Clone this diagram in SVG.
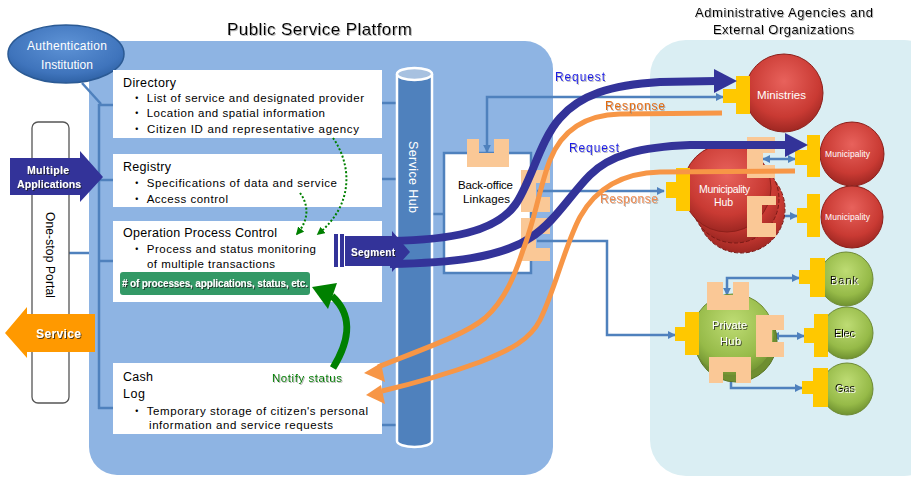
<svg xmlns="http://www.w3.org/2000/svg" width="911" height="478" viewBox="0 0 911 478">
<defs>
<style>
.f{font-family:"Liberation Sans","Noto Sans CJK JP",Arial,sans-serif}
.hd{font-size:12.5px;fill:#000}
.it{font-size:11.5px;fill:#000}
.wb{font-weight:bold;fill:#fff}
.cn{fill:none;stroke:#4F81BD;stroke-width:2.5}
.pe{fill:#FAC896}
.ye{fill:#FFC800}
.rq{fill:none;stroke:#333399;stroke-width:8}
.rs{fill:none;stroke:#F79646;stroke-width:5}
.box{fill:#fff}
</style>
<marker id="ab" viewBox="0 0 10 10" refX="9" refY="5" markerWidth="8" markerHeight="8" markerUnits="userSpaceOnUse" orient="auto-start-reverse"><path d="M0,0 L10,5 L0,10 z" fill="#4F81BD"/></marker>
<marker id="ag" viewBox="0 0 10 10" refX="8" refY="5" markerWidth="8" markerHeight="8" markerUnits="userSpaceOnUse" orient="auto"><path d="M0,0 L10,5 L0,10 z" fill="#008000"/></marker>
<radialGradient id="red" cx="50%" cy="35%" r="65%"><stop offset="0" stop-color="#E8625C"/><stop offset="0.7" stop-color="#C93A33"/><stop offset="1" stop-color="#9E2722"/></radialGradient>
<radialGradient id="grn" cx="50%" cy="35%" r="65%"><stop offset="0" stop-color="#BEDC74"/><stop offset="0.7" stop-color="#96BA48"/><stop offset="1" stop-color="#6F9130"/></radialGradient>
<radialGradient id="blu" cx="50%" cy="35%" r="70%"><stop offset="0" stop-color="#5E93D6"/><stop offset="0.7" stop-color="#3F74BC"/><stop offset="1" stop-color="#2A5C9E"/></radialGradient>
<filter id="sd" x="-10%" y="-30%" width="120%" height="160%"><feDropShadow dx="1" dy="1" stdDeviation="0.4" flood-color="#222" flood-opacity="0.8"/></filter>
<filter id="sl" x="-10%" y="-30%" width="120%" height="160%"><feDropShadow dx="1" dy="1" stdDeviation="0.6" flood-color="#888" flood-opacity="0.6"/></filter>
<filter id="sw" x="-10%" y="-30%" width="120%" height="160%"><feDropShadow dx="1" dy="1" stdDeviation="0.3" flood-color="#fff" flood-opacity="1"/></filter>
</defs>

<!-- panels -->
<rect id="platform" x="89" y="41" width="464" height="434" rx="28" fill="#8EB4E3"/>
<rect id="external" x="650" y="40" width="290" height="436" rx="36" fill="#DAEEF3"/>
<text class="f" x="227" y="35" font-size="17" textLength="185" filter="url(#sl)">Public Service Platform</text>
<text class="f" x="695" y="17" font-size="13" textLength="178" filter="url(#sl)">Administrative Agencies and</text>
<text class="f" x="713" y="34" font-size="13" textLength="141" filter="url(#sl)">External Organizations</text>

<!-- connectors (thin) -->
<g id="connectors">
<path class="cn" d="M82,83 L101,104"/>
<path class="cn" d="M99,104 V409 M98,105 H113 M98,180 H113 M98,261 H113 M98,408 H113"/>
<path class="cn" d="M69,253 H89"/>
<path class="cn" d="M382,103 H398 M382,179 H398 M382,425 H398 M431,214 H445"/>
<path class="cn" d="M487,152 V97 H723" marker-start="url(#ab)" marker-end="url(#ab)"/>
<path class="cn" d="M537,191 H664" marker-end="url(#ab)"/>
<path class="cn" d="M537,241 H607 V335 H675" marker-end="url(#ab)"/>
<path class="cn" d="M763,159 H795" marker-start="url(#ab)" marker-end="url(#ab)"/>
<path class="cn" d="M763,216 H797" marker-start="url(#ab)" marker-end="url(#ab)"/>
<path class="cn" d="M727,295 V278 H799" marker-start="url(#ab)" marker-end="url(#ab)"/>
<path class="cn" d="M772,336 H804" marker-start="url(#ab)" marker-end="url(#ab)"/>
<path class="cn" d="M731,373 V388 H802" marker-start="url(#ab)" marker-end="url(#ab)"/>
</g>

<!-- authentication -->
<g id="auth">
<ellipse cx="66" cy="54" rx="58" ry="29" fill="url(#blu)" stroke="#2B5A94" stroke-width="1.5"/>
<text class="f" x="27" y="50" font-size="12" fill="#fff" textLength="80">Authentication</text>
<text class="f" x="41" y="69" font-size="12" fill="#fff" textLength="52">Institution</text>
</g>

<!-- portal -->
<g id="portal">
<rect x="32" y="122" width="37" height="281" rx="6" fill="#fff" stroke="#555" stroke-width="1.3"/>
<text class="f" transform="translate(46,212) rotate(90)" font-size="12" textLength="86">One-stop Portal</text>
</g>

<g id="multiple">
<path d="M10,158 H80 V151 L103,177 L80,202 V195 H10 Z" fill="#333399"/>
<text class="f wb" x="27" y="174" font-size="10.5" textLength="42" filter="url(#sd)">Multiple</text>
<text class="f wb" x="17" y="188" font-size="10.5" textLength="64" filter="url(#sd)">Applications</text>
</g>

<g id="service">
<path d="M5,333 L27,307 V314 H95 V352 H27 V358 Z" fill="#FF9900"/>
<text class="f wb" x="36" y="338" font-size="12" textLength="45" filter="url(#sd)">Service</text>
</g>

<!-- boxes -->
<g id="directory">
<rect class="box" x="113" y="70" width="269" height="68"/>
<text class="f hd" x="123" y="87" textLength="53">Directory</text>
<text class="f it" x="131" y="102" textLength="233">・ List of service and designated provider</text>
<text class="f it" x="131" y="117" textLength="194">・ Location and spatial information</text>
<text class="f it" x="131" y="133" textLength="228">・ Citizen ID and representative agency</text>
</g>
<g id="registry">
<rect class="box" x="113" y="154" width="269" height="53"/>
<text class="f hd" x="123" y="171" textLength="48">Registry</text>
<text class="f it" x="131" y="187" textLength="206">・ Specifications of data and service</text>
<text class="f it" x="131" y="203" textLength="97">・ Access control</text>
</g>
<g id="operation">
<rect class="box" x="113" y="221" width="269" height="81"/>
<text class="f hd" x="123" y="237" textLength="154">Operation Process Control</text>
<text class="f it" x="131" y="253" textLength="185">・ Process and status monitoring</text>
<text class="f it" x="147" y="268" textLength="128">of multiple transactions</text>
<rect x="120" y="272" width="190" height="23" rx="3" fill="#339966"/>
<text class="f wb" x="122" y="287" font-size="10" textLength="186" filter="url(#sd)"># of processes, applications, status, etc.</text>
</g>
<g id="cashlog">
<rect class="box" x="113" y="363" width="269" height="71"/>
<text class="f hd" x="123" y="381" textLength="30">Cash</text>
<text class="f hd" x="123" y="398" textLength="22">Log</text>
<text class="f it" x="131" y="415" textLength="237">・ Temporary storage of citizen's personal</text>
<text class="f it" x="149" y="429" textLength="184">information and service requests</text>
</g>

<!-- service hub -->
<g id="servicehub">
<path d="M397,74 V441 A17.5,6 0 0 0 432,441 V74" fill="#4F81BD" stroke="#fff" stroke-width="2.5"/>
<ellipse cx="414.5" cy="74" rx="17.5" ry="6" fill="#A7C1E0" stroke="#fff" stroke-width="2.5"/>
<text class="f" transform="translate(409,141) rotate(90)" font-size="12.5" fill="#fff" textLength="72">Service Hub</text>
</g>

<!-- back-office -->
<g id="backoffice">
<rect x="444" y="153" width="87" height="120" fill="#fff" stroke="#4F81BD" stroke-width="2.5"/>
<path class="pe" d="M467,139 H479 V153 H494 V139 H509 V167 H467 Z"/>
<path class="pe" d="M521,170 H550 V183 H536 V197 H550 V212 H521 Z"/>
<path class="pe" d="M521,218 H550 V234 H536 V248 H550 V261 H521 Z"/>
<text class="f" x="458" y="189" font-size="11.5" textLength="55">Back-office</text>
<text class="f" x="463" y="203" font-size="11.5" textLength="47">Linkages</text>
</g>

<!-- external nodes -->
<g id="ministries">
<circle cx="784" cy="93" r="39" fill="url(#red)" stroke="#8C1F1A"/>
<path class="ye" d="M736,76 H750 V114 H736 V103 H723 V89 H736 Z"/>
<text class="f" x="757" y="99" font-size="11.5" fill="#fff" textLength="49">Ministries</text>
</g>
<g id="municipality1">
<circle cx="852" cy="154" r="32" fill="url(#red)" stroke="#8C1F1A"/>
<path class="ye" d="M807,135 H820 V177 H807 V165 H795 V150 H807 Z"/>
<text class="f" x="825" y="157" font-size="8.5" fill="#fff" textLength="45">Municipality</text>
</g>
<g id="municipality2">
<circle cx="852" cy="217" r="31" fill="url(#red)" stroke="#8C1F1A"/>
<path class="ye" d="M807,194 H820 V237 H807 V223 H797 V208 H807 Z"/>
<text class="f" x="825" y="220" font-size="8.5" fill="#fff" textLength="45">Municipality</text>
</g>
<g id="municipalityhub">
<circle cx="741" cy="209" r="44" fill="url(#red)" stroke="#7A1A16" stroke-dasharray="4 2"/>
<circle cx="735" cy="199" r="44" fill="url(#red)" stroke="#7A1A16" stroke-dasharray="4 2"/>
<circle cx="727" cy="188" r="44" fill="url(#red)" stroke="#8C1F1A"/>
<path class="ye" d="M676,168 H690 V211 H676 V198 H666 V182 H676 Z"/>
<path class="pe" d="M747,137 H775 V153 H763 V165 H775 V178 H747 Z"/>
<path class="pe" d="M747,196 H776 V205 H762 V223 H776 V237 H747 Z"/>
<text class="f" x="699" y="193" font-size="10.5" fill="#fff" textLength="51">Municipality</text>
<text class="f" x="714" y="206" font-size="10.5" fill="#fff" textLength="19">Hub</text>
</g>
<g id="privatehub">
<circle cx="736" cy="341" r="41" fill="#6E8E30" stroke="#5A7526"/>
<circle cx="733" cy="335" r="41" fill="url(#grn)" stroke="#6E8A35"/>
<path class="ye" d="M685,312 H699 V355 H685 V341 H675 V327 H685 Z"/>
<path class="pe" d="M707,282 H723 V295 H733 V282 H749 V310 H707 Z"/>
<path class="pe" d="M756,315 H784 V330 H772 V342 H784 V357 H756 Z"/>
<path class="pe" d="M709,357 H751 V383 H736 V372 H723 V383 H709 Z"/>
<text class="f" x="712" y="329" font-size="11" fill="#fff" textLength="35" filter="url(#sd)">Private</text>
<text class="f" x="720" y="345" font-size="11" fill="#fff" textLength="21" filter="url(#sd)">Hub</text>
</g>
<g id="bank">
<circle cx="846" cy="279" r="27" fill="url(#grn)" stroke="#6E8A35"/>
<path class="ye" d="M810,258 H825 V297 H810 V284 H799 V270 H810 Z"/>
<text class="f" x="830" y="284" font-size="11" fill="#000" textLength="28" filter="url(#sw)">Bank</text>
</g>
<g id="elec">
<circle cx="847" cy="333" r="26" fill="url(#grn)" stroke="#6E8A35"/>
<path class="ye" d="M814,314 H828 V357 H814 V343 H804 V328 H814 Z"/>
<text class="f" x="834" y="337" font-size="11" fill="#000" textLength="21" filter="url(#sw)">Elec</text>
</g>
<g id="gas">
<circle cx="847" cy="389" r="26" fill="url(#grn)" stroke="#6E8A35"/>
<path class="ye" d="M813,368 H828 V407 H813 V394 H802 V381 H813 Z"/>
<text class="f" x="835" y="392" font-size="11" fill="#000" textLength="20" filter="url(#sw)">Gas</text>
</g>

<!-- thick flows -->
<g id="flows">
<path class="rq" d="M390,241 C450,240 495,232 515,205 C530,185 540,140 560,118 C580,95 610,85 660,82 L716,81"/>
<polygon points="714,69 737,81 714,93" fill="#333399"/>
<path class="rq" d="M390,264 C450,263 500,258 530,238 C555,222 570,195 590,175 C610,155 640,147 690,145 L787,145"/>
<polygon points="785,133 808,145 785,157" fill="#333399"/>
<path class="rs" d="M722,113 L620,114 C580,115 560,135 550,160 C540,185 535,220 523,250 C515,275 505,300 485,318 C465,335 420,350 378,367"/>
<polygon points="364,373 381,363 385,382" fill="#F79646"/>
<path class="rs" d="M795,171 L660,172 C620,173 595,190 580,217 C565,245 555,290 540,320 C530,340 510,350 480,362 C450,373 420,382 382,391"/>
<polygon points="366,395 381,385 385,404" fill="#F79646"/>
</g>

<g id="segment">
<rect x="334" y="234" width="4" height="33" fill="#333399"/>
<rect x="340" y="234" width="4" height="33" fill="#333399"/>
<path d="M345,236 H392 V231 L410,252 L392,272 V266 H345 Z" fill="#333399"/>
<text class="f wb" x="351" y="256" font-size="10" textLength="44" filter="url(#sd)">Segment</text>
</g>

<!-- notify -->
<g id="notify">
<path d="M333,368 C347,345 356,318 332,296" fill="none" stroke="#008000" stroke-width="7"/>
<polygon points="312,287 337,283 328,309" fill="#008000"/>
<text class="f" x="272" y="382" font-size="11.5" fill="#008000" textLength="70" filter="url(#sl)">Notify status</text>
<path d="M333,138 C352,165 354,205 318,234" fill="none" stroke="#008000" stroke-width="2" stroke-dasharray="2 2" marker-end="url(#ag)"/>
<path d="M300,193 C309,205 309,220 297,234" fill="none" stroke="#008000" stroke-width="2" stroke-dasharray="2 2" marker-end="url(#ag)"/>
</g>

<!-- labels -->
<text class="f" x="555" y="81" font-size="12" fill="#1A1AE6" textLength="50" filter="url(#sl)">Request</text>
<text class="f" x="605" y="110" font-size="12" fill="#E46C0A" textLength="60" filter="url(#sl)">Response</text>
<text class="f" x="569" y="152" font-size="12" fill="#1A1AE6" textLength="50" filter="url(#sl)">Request</text>
<text class="f" x="600" y="203" font-size="12" fill="#F08C50" textLength="58" filter="url(#sl)">Response</text>
</svg>
